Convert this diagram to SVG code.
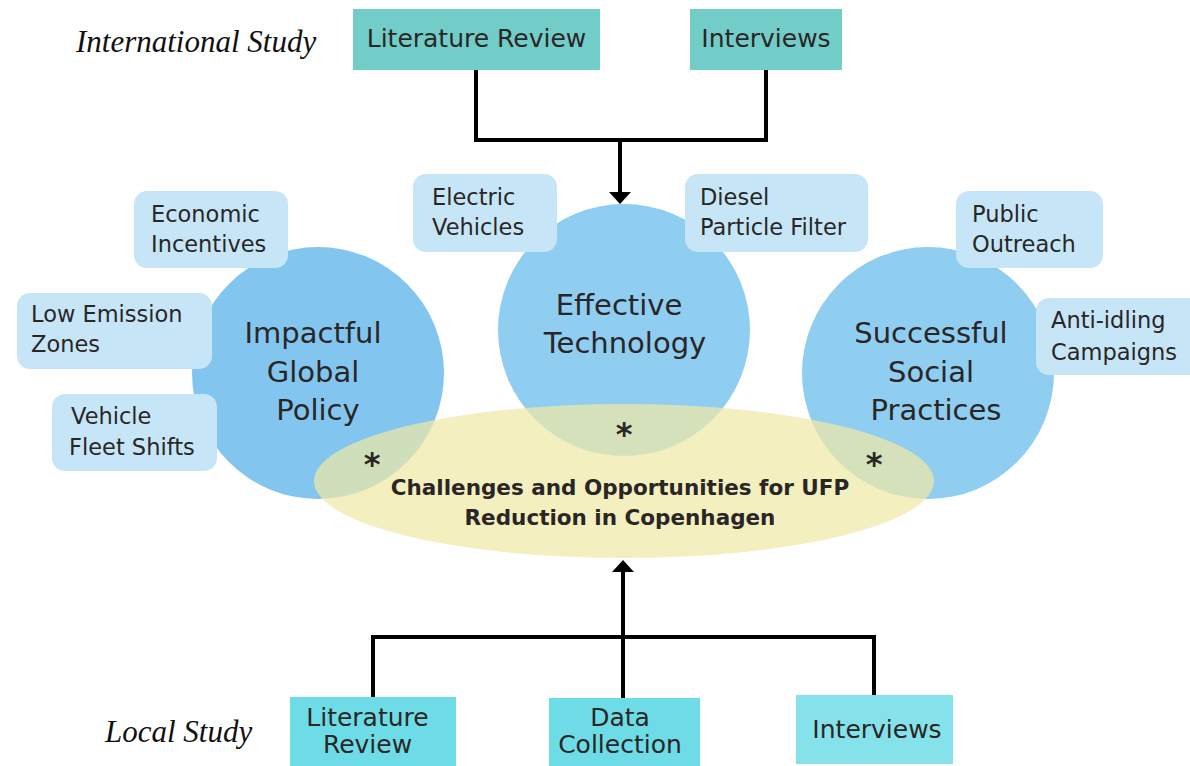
<svg xmlns="http://www.w3.org/2000/svg" width="1190" height="766" viewBox="0 0 1190 766">
<style>
.lbl{font-family:"DejaVu Sans","Noto Sans",sans-serif;fill:#2a2626}
.box{font-size:25px}
.sm{font-size:22.5px}
.big{font-size:29px}
.title{font-family:"Liberation Serif","Times New Roman",serif;font-style:italic;font-size:31px;fill:#111}
.ttl{font-family:"DejaVu Sans","Noto Sans",sans-serif;font-weight:bold;font-size:21.5px;fill:#2a2626}
.ast{font-family:"DejaVu Sans",sans-serif;font-weight:bold;font-size:32px;fill:#2a2626}
.pill{fill:#c6e6f8}
.conn{fill:none;stroke:#000;stroke-width:4;stroke-linejoin:miter}
</style>
<defs>
<marker id="arrow" markerUnits="userSpaceOnUse" viewBox="0 0 12 22" markerWidth="12" markerHeight="22" refX="4" refY="11" orient="auto">
<path d="M0,0 L12,11 L0,22 Z" fill="#000"/>
</marker>
</defs>
<rect width="1190" height="766" fill="#fff"/>

<text class="title" x="76" y="52">International Study</text>
<text class="title" x="105" y="742">Local Study</text>

<g id="connectors">
<path class="conn" d="M476,70 V140 H766 V70"/>
<path class="conn" d="M620,140 V196" marker-end="url(#arrow)"/>
<path class="conn" d="M373,697 V637 H874 V695"/>
<path class="conn" d="M623,698 V568" marker-end="url(#arrow)"/>
</g>

<g id="circle-policy">
<circle cx="318" cy="373" r="126" fill="#82c6ef"/>
</g>
<g id="circle-technology">
<circle cx="624" cy="330" r="126" fill="#8fcdf1"/>
</g>
<g id="circle-social">
<circle cx="928" cy="373" r="126" fill="#8fcdf1"/>
</g>

<g id="ellipse-challenges">
<ellipse cx="624" cy="481" rx="310" ry="77" fill="#eee9a6" fill-opacity="0.72"/>
<text class="ttl" x="620" y="495" text-anchor="middle">Challenges and Opportunities for UFP</text>
<text class="ttl" x="620" y="525" text-anchor="middle">Reduction in Copenhagen</text>
</g>

<g id="asterisks">
<text class="ast" x="372" y="475" text-anchor="middle">*</text>
<text class="ast" x="624" y="445" text-anchor="middle">*</text>
<text class="ast" x="874" y="475" text-anchor="middle">*</text>
</g>

<g id="label-policy">
<text class="lbl big" x="313" y="343" text-anchor="middle">Impactful</text>
<text class="lbl big" x="313" y="382" text-anchor="middle">Global</text>
<text class="lbl big" x="318" y="420" text-anchor="middle">Policy</text>
</g>
<g id="label-technology">
<text class="lbl big" x="619" y="315" text-anchor="middle">Effective</text>
<text class="lbl big" x="625" y="353" text-anchor="middle">Technology</text>
</g>
<g id="label-social">
<text class="lbl big" x="931" y="343" text-anchor="middle">Successful</text>
<text class="lbl big" x="931" y="382" text-anchor="middle">Social</text>
<text class="lbl big" x="936" y="420" text-anchor="middle">Practices</text>
</g>

<g id="intl-literature-review">
<rect x="353" y="9" width="247" height="61" fill="#72cdc9"/>
<text class="lbl box" x="476.5" y="47" text-anchor="middle">Literature Review</text>
</g>
<g id="intl-interviews">
<rect x="690" y="9" width="152" height="61" fill="#72cdc9"/>
<text class="lbl box" x="766" y="47" text-anchor="middle">Interviews</text>
</g>

<g id="economic-incentives">
<rect class="pill" x="134" y="191" width="154" height="77" rx="13"/>
<text class="lbl sm" x="151" y="222">Economic</text>
<text class="lbl sm" x="151" y="252">Incentives</text>
</g>
<g id="low-emission-zones">
<rect class="pill" x="17" y="293" width="195" height="76" rx="13"/>
<text class="lbl sm" x="31" y="322">Low Emission</text>
<text class="lbl sm" x="31" y="352">Zones</text>
</g>
<g id="vehicle-fleet-shifts">
<rect class="pill" x="52" y="394" width="165" height="77" rx="13"/>
<text class="lbl sm" x="71" y="424">Vehicle</text>
<text class="lbl sm" x="69" y="455">Fleet Shifts</text>
</g>
<g id="electric-vehicles">
<rect class="pill" x="413" y="174" width="144" height="78" rx="13"/>
<text class="lbl sm" x="432" y="205">Electric</text>
<text class="lbl sm" x="432" y="235">Vehicles</text>
</g>
<g id="diesel-particle-filter">
<rect class="pill" x="685" y="174" width="183" height="78" rx="13"/>
<text class="lbl sm" x="700" y="205">Diesel</text>
<text class="lbl sm" x="700" y="235">Particle Filter</text>
</g>
<g id="public-outreach">
<rect class="pill" x="956" y="191" width="147" height="77" rx="13"/>
<text class="lbl sm" x="972" y="222">Public</text>
<text class="lbl sm" x="972" y="252">Outreach</text>
</g>
<g id="anti-idling-campaigns">
<rect class="pill" x="1036" y="298" width="170" height="77" rx="13"/>
<text class="lbl sm" x="1051" y="328">Anti-idling</text>
<text class="lbl sm" x="1051" y="360">Campaigns</text>
</g>

<g id="local-literature-review">
<rect x="290" y="697" width="166" height="75" fill="#6ddce6"/>
<text class="lbl box" x="367.5" y="726" text-anchor="middle">Literature</text>
<text class="lbl box" x="367.5" y="753" text-anchor="middle">Review</text>
</g>
<g id="local-data-collection">
<rect x="549" y="698" width="151" height="74" fill="#6ddce6"/>
<text class="lbl box" x="620" y="726" text-anchor="middle">Data</text>
<text class="lbl box" x="620" y="753" text-anchor="middle">Collection</text>
</g>
<g id="local-interviews">
<rect x="796" y="695" width="157" height="69" fill="#86e2ea"/>
<text class="lbl box" x="877" y="738" text-anchor="middle">Interviews</text>
</g>
</svg>
